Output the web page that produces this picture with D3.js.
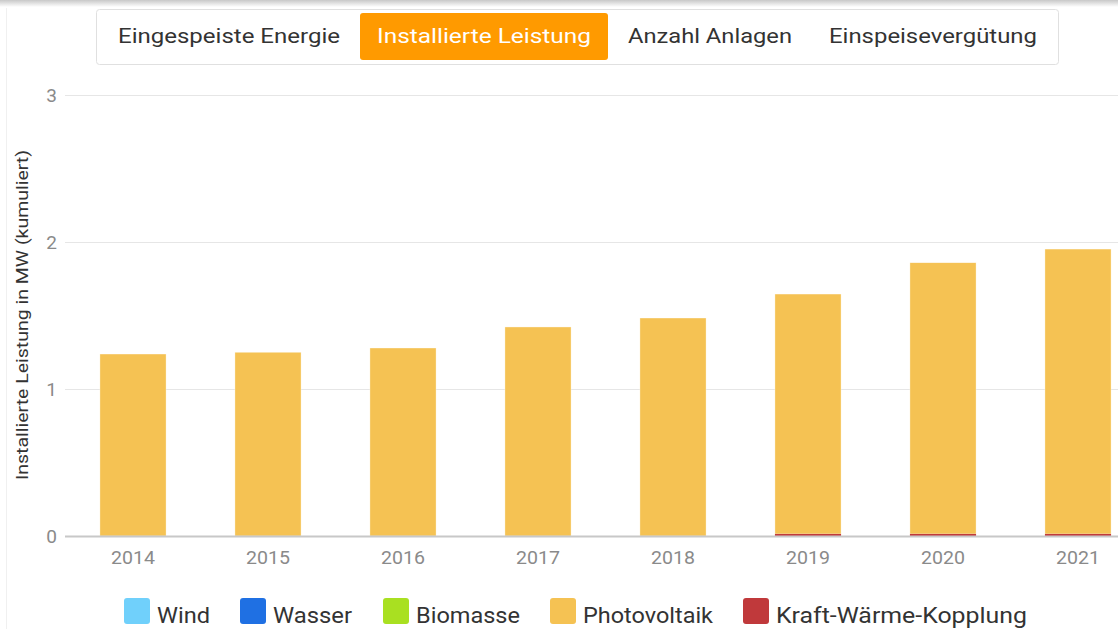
<!DOCTYPE html>
<html><head><meta charset="utf-8">
<script src="https://cdn.jsdelivr.net/npm/d3@7"></script>
<style>
html,body{margin:0;padding:0;background:#fff;overflow:hidden;}
svg{display:block;font-family:"Roboto","DejaVu Sans",sans-serif;}
</style></head>
<body><svg id="c" width="1118" height="629"></svg>
<script>
const years = ["2014","2015","2016","2017","2018","2019","2020","2021"];
const seriesNames = ["Wind","Wasser","Biomasse","Photovoltaik","Kraft-Wärme-Kopplung"];
const seriesColors = ["#70d0fb","#1f70e3","#a9e021","#f5c253","#c0393b"];
const wind = [0,0,0,0,0,0,0,0];
const wasser = [0,0,0,0,0,0,0,0];
const biomasse = [0,0,0,0,0,0,0,0];
const kwk = [0,0,0,0,0,0.014,0.014,0.014];
const photovoltaik = [1.238,1.250,1.279,1.422,1.483,1.632,1.845,1.938];
const yTicks = [0,1,2,3];
const tabs = ["Eingespeiste Energie","Installierte Leistung","Anzahl Anlagen","Einspeisevergütung"];
const activeTab = 1;
const yTitle = "Installierte Leistung in MW (kumuliert)";

const svg = d3.select("#c");
const defs = svg.append("defs");
const g1 = defs.append("linearGradient").attr("id","sh").attr("x1",0).attr("y1",0).attr("x2",0).attr("y2",1);
g1.append("stop").attr("offset",0).attr("stop-color","#c8c8c8");
g1.append("stop").attr("offset",1).attr("stop-color","#ffffff");
svg.append("rect").attr("x",0).attr("y",0).attr("width",1118).attr("height",7).attr("fill","url(#sh)");
svg.append("line").attr("x1",6.5).attr("x2",6.5).attr("y1",8).attr("y2",629).attr("stroke","#f0f0f0");

// tabs
svg.append("rect").attr("x",96.5).attr("y",9.5).attr("width",962).attr("height",55).attr("rx",3)
  .attr("fill","#fff").attr("stroke","#e0e0e0");
svg.append("rect").attr("x",360).attr("y",13).attr("width",248).attr("height",47).attr("rx",3).attr("fill","#ff9a00");
const tabCenters = [229,484,710,933];
const tabWidths = [222,214,164,208];
svg.selectAll("text.tab").data(tabs).join("text").attr("class","tab")
  .attr("x",(d,i)=>tabCenters[i]).attr("y",43).attr("text-anchor","middle")
  .attr("font-size",20).attr("fill",(d,i)=>i===activeTab?"#fff":"#333")
  .attr("textLength",(d,i)=>tabWidths[i]).attr("lengthAdjust","spacingAndGlyphs")
  .text(d=>d);

// scales
const x = d3.scaleBand().domain(years).range([65.5,1145.5]).paddingInner(0.51).paddingOuter(0.255);
const y = d3.scaleLinear().domain([0,3]).range([536,95]);

// grid
svg.selectAll("line.grid").data(yTicks.filter(t=>t>0)).join("line").attr("class","grid")
  .attr("x1",65).attr("x2",1118).attr("y1",d=>Math.round(y(d))+0.5).attr("y2",d=>Math.round(y(d))+0.5)
  .attr("stroke","#e6e6e6");

// stacked bars
const rows = years.map((yr,i)=>({year:yr,"Wind":wind[i],"Wasser":wasser[i],"Biomasse":biomasse[i],"Photovoltaik":photovoltaik[i],"Kraft-Wärme-Kopplung":kwk[i]}));
const stackOrder = ["Kraft-Wärme-Kopplung","Biomasse","Wasser","Wind","Photovoltaik"];
const stack = d3.stack().keys(stackOrder)(rows);
const colorOf = k => seriesColors[seriesNames.indexOf(k)];
stack.slice().reverse().forEach(layer=>{
  svg.append("g").selectAll("rect").data(layer.filter(d=>d[1]-d[0]>0)).join("rect")
    .attr("x",d=>x(d.data.year)).attr("width",x.bandwidth())
    .attr("y",d=>y(d[1])).attr("height",d=>y(d[0])-y(d[1]))
    .attr("fill",colorOf(layer.key))
    .attr("stroke",layer.key==="Photovoltaik"?"#fff":"none").attr("stroke-width",0.6).attr("stroke-opacity",0.6);
});

// x axis line
svg.append("line").attr("x1",65).attr("x2",1118).attr("y1",536.5).attr("y2",536.5).attr("stroke","#c8c8c8").attr("stroke-width",2);

// y tick labels
svg.selectAll("text.yt").data(yTicks).join("text").attr("class","yt")
  .attr("x",57).attr("y",d=>y(d)+7).attr("text-anchor","end")
  .attr("font-size",19).attr("fill","#8a8a8a").text(d=>d);

// x labels
svg.selectAll("text.xt").data(years).join("text").attr("class","xt")
  .attr("x",d=>x(d)+x.bandwidth()/2).attr("y",564).attr("text-anchor","middle")
  .attr("font-size",18).attr("fill","#8a8a8a")
  .attr("textLength",44).attr("lengthAdjust","spacingAndGlyphs").text(d=>d);

// y title
svg.append("text").attr("transform","translate(28,315) rotate(-90)").attr("text-anchor","middle")
  .attr("font-size",16).attr("fill","#333")
  .attr("textLength",330).attr("lengthAdjust","spacingAndGlyphs").text(yTitle);

// legend
const legX = [124,240,383,550,743];
const legW = [53,79,104,130,251];
const leg = svg.selectAll("g.leg").data(seriesNames).join("g").attr("class","leg")
  .attr("transform",(d,i)=>`translate(${legX[i]},598)`);
leg.append("rect").attr("width",26).attr("height",26).attr("rx",3).attr("fill",(d,i)=>seriesColors[i]);
leg.append("text").attr("x",33).attr("y",25).attr("font-size",22).attr("fill","#333")
  .attr("textLength",(d,i)=>legW[i]).attr("lengthAdjust","spacingAndGlyphs").text(d=>d);
</script></body></html>
